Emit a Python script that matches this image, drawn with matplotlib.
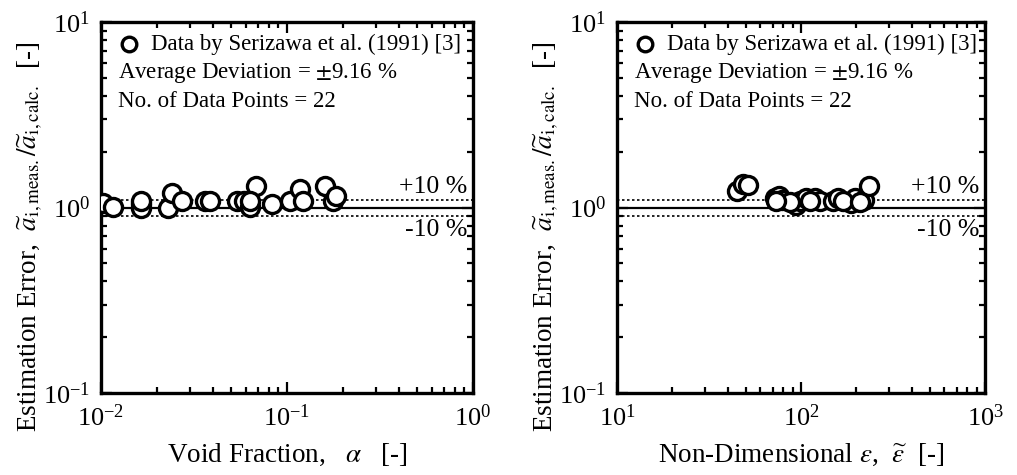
import numpy as np
import matplotlib
matplotlib.use("Agg")
import matplotlib.pyplot as plt
from matplotlib.ticker import LogLocator, NullFormatter

plt.rcParams['font.family'] = ['Liberation Serif', 'DejaVu Serif']
plt.rcParams['mathtext.fontset'] = 'stix'
plt.rcParams['font.size'] = 17

# void fraction data (left panel)
alpha = [0.01025, 0.0116, 0.0164, 0.0164, 0.0228, 0.0242, 0.0274, 0.0361,
         0.0384, 0.0537, 0.0586, 0.0631, 0.0680, 0.0829, 0.1037, 0.1175,
         0.1219, 0.160, 0.177, 0.184, 0.0164, 0.0631]
err_alpha = [1.064, 1.012, 1.05, 0.99, 1.0, 1.205, 1.09, 1.09,
             1.09, 1.09, 1.09, 1.01, 1.31, 1.04, 1.09, 1.266,
             1.09, 1.30, 1.09, 1.16, 1.09, 1.09]

# non-dimensional epsilon data (right panel)
eps = [44.9, 48.4, 51.5, 72.3, 75.9, 78.8, 94.0, 98.8, 106.5, 119.1, 126.9,
       149.2, 158.8, 187.0, 196.5, 220, 234, 87.1, 111.9, 169, 209, 73.2]
err_eps = [1.235, 1.347, 1.33, 1.132, 1.16, 1.104, 1.038, 1.09, 1.132, 1.12, 1.09,
           1.09, 1.132, 1.064, 1.132, 1.104, 1.30, 1.077, 1.09, 1.09, 1.077, 1.09]

ylab = r"Estimation Error,  $\widetilde{a}_{\mathrm{i,meas.}}/\widetilde{a}_{\mathrm{i,calc.}}$  [-]"

fig = plt.figure(figsize=(10.17, 4.75), dpi=100)
ax1 = fig.add_axes([0.0993, 0.1726, 0.3658, 0.781])
ax2 = fig.add_axes([0.6067, 0.1726, 0.3619, 0.781])

panels = [
    (ax1, alpha, err_alpha, (1e-2, 1e0), r"Void Fraction,   $\alpha$   [-]", -0.15),
    (ax2, eps, err_eps, (1e1, 1e3), r"Non-Dimensional $\varepsilon$,  $\widetilde{\varepsilon}$  [-]", -0.152),
]

for ax, x, y, xl, xlab, ylx in panels:
    ax.set_xscale('log')
    ax.set_yscale('log')
    ax.set_xlim(xl)
    ax.set_ylim(1e-1, 1e1)
    ax.axhline(1.0, color='black', lw=1.6)
    ax.axhline(1.1, color='black', lw=1.2, ls=(0, (1.5, 1.5)))
    ax.axhline(0.9, color='black', lw=1.2, ls=(0, (1.5, 1.5)))
    ax.plot(x, y, 'o', ms=13, mfc='white', mec='black', mew=2.4, ls='none', zorder=3)
    ax.text(0.985, 1.13, "+10 %", transform=ax.get_yaxis_transform(),
            ha='right', va='bottom', fontsize=18.5)
    ax.text(0.985, 0.87, "-10 %", transform=ax.get_yaxis_transform(),
            ha='right', va='top', fontsize=18.5)

    # legend-like text block
    ax.plot([0.075], [0.94], 'o', ms=10.5, mfc='white', mec='black', mew=2.4,
            transform=ax.transAxes, clip_on=False)
    ax.text(0.135, 0.94, "Data by Serizawa et al. (1991) [3]",
            transform=ax.transAxes, va='center', fontsize=16.5)
    ax.text(0.045, 0.862, r"Average Deviation = $\pm$9.16 %",
            transform=ax.transAxes, va='center', fontsize=16.5)
    ax.text(0.045, 0.785, "No. of Data Points = 22",
            transform=ax.transAxes, va='center', fontsize=16.5)

    ax.set_xlabel(xlab, fontsize=19.5, labelpad=8)
    ax.set_ylabel(ylab, fontsize=19.5)
    ax.yaxis.set_label_coords(ylx, 0.42)

    for s in ax.spines.values():
        s.set_linewidth(2.4)
    ax.tick_params(which='both', direction='in', top=True, right=True, width=1.6)
    ax.tick_params(which='major', length=8, labelsize=19, pad=8)
    ax.tick_params(which='minor', length=4)
    ax.xaxis.set_minor_locator(LogLocator(base=10, subs=np.arange(2, 10)))
    ax.yaxis.set_minor_locator(LogLocator(base=10, subs=np.arange(2, 10)))
    ax.xaxis.set_minor_formatter(NullFormatter())
    ax.yaxis.set_minor_formatter(NullFormatter())

fig.savefig("out.png", dpi=100)
